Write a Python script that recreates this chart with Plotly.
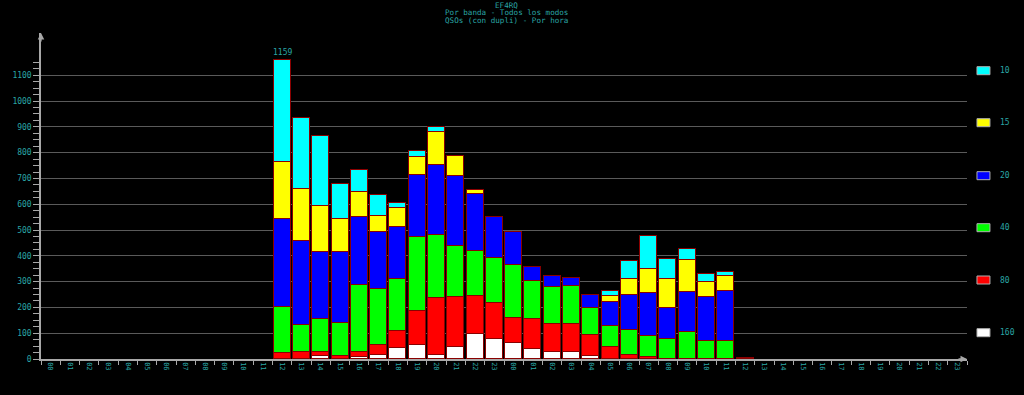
import plotly.graph_objects as go

# ---- data ----
hour_labels = [f"{h:02d}" for h in range(24)] * 2
bands = ["160", "80", "40", "20", "15", "10"]
band_colors = ["#ffffff", "#ff0000", "#00ff00", "#0000ff", "#ffff00", "#00ffff"]

pad0 = [0] * 12
pad1 = [0] * 11
q160 = pad0 + [0, 0, 10, 0, 9, 14, 41, 54, 16, 48, 97, 76, 63, 39, 28, 28, 12, 0, 0, 0, 0, 0, 0, 0, 0] + pad1
q80 = pad0 + [25, 26, 16, 12, 19, 40, 69, 132, 219, 191, 146, 140, 97, 115, 108, 106, 82, 48, 16, 6, 0, 0, 0, 0, 0] + pad1
q40 = pad0 + [178, 106, 128, 126, 258, 217, 200, 288, 247, 200, 177, 177, 203, 150, 142, 150, 105, 80, 96, 83, 76, 103, 68, 68, 0] + pad1
q20 = pad0 + [338, 324, 259, 275, 266, 220, 202, 238, 270, 270, 218, 159, 128, 54, 44, 30, 50, 93, 136, 168, 120, 157, 171, 197, 4] + pad1
q15 = pad0 + [224, 203, 179, 128, 97, 65, 72, 70, 129, 79, 17, 0, 0, 0, 0, 0, 0, 23, 62, 92, 114, 124, 61, 57, 0] + pad1
q10 = pad0 + [394, 276, 271, 139, 84, 81, 22, 25, 17, 0, 0, 0, 0, 0, 0, 0, 0, 21, 70, 129, 78, 41, 29, 15, 0] + pad1
series = [q160, q80, q40, q20, q15, q10]

title_lines = ["EF4RQ", "Por banda - Todos los modos", "QSOs (con dupli) - Por hora"]

TEAL = "#2aa6a6"
GRID = "#5a5a5a"
AXIS = "#a8a8a8"
FONT = "DejaVu Sans Mono, Liberation Mono, monospace"

xs = [i + 0.5 for i in range(len(hour_labels))]

fig = go.Figure()
for name, col, vals in zip(bands, band_colors, series):
    fig.add_trace(go.Bar(
        x=xs, y=[v if v else None for v in vals], name=name, width=0.88,
        marker=dict(color=col, line=dict(color="#8a0000", width=1)),
        showlegend=False,
    ))

totals = [sum(v) for v in zip(*series)]
imax = max(range(len(totals)), key=lambda i: totals[i])

H = 395
T, B = 33, 36
ph = H - T - B

annotations = []
for k, t in enumerate(title_lines):
    annotations.append(dict(text=t, x=0.5025, y=1 + (T - (5 + k * 7.6)) / ph,
                            xref="paper", yref="paper",
                            showarrow=False, font=dict(family=FONT, size=7.6, color=TEAL),
                            xanchor="center", yanchor="middle"))
annotations.append(dict(text=str(totals[imax]), x=xs[imax], y=totals[imax], yshift=8,
                        showarrow=False, font=dict(family=FONT, size=8, color=TEAL),
                        xanchor="center", yanchor="middle"))
# axis arrows
annotations.append(dict(text="", x=0, y=1, xref="paper", yref="paper", ax=0, ay=10,
                        showarrow=True, arrowhead=2, arrowsize=1, arrowwidth=1.3, arrowcolor=AXIS))
annotations.append(dict(text="", x=1, y=0, xref="paper", yref="paper", ax=-10, ay=0,
                        showarrow=True, arrowhead=2, arrowsize=1, arrowwidth=1.3, arrowcolor=AXIS))

shapes = []
# legend (top = 10, bottom = 160)
leg_y = [70.7, 122.7, 175.7, 227.7, 280.0, 332.7]
for (name, col), yy in zip(list(zip(bands, band_colors))[::-1], leg_y):
    y0 = 1 + (T - (yy + 4)) / ph
    y1 = 1 + (T - (yy - 4)) / ph
    shapes.append(dict(type="rect", xref="paper", yref="paper",
                       x0=(977 - 39) / 928, x1=(990 - 39) / 928, y0=y0, y1=y1,
                       fillcolor=col, line=dict(color="#b0b0b0", width=1)))
    annotations.append(dict(text=name, xref="paper", yref="paper",
                            x=(998 - 39) / 928, y=1 + (T - yy) / ph,
                            showarrow=False, xanchor="left", yanchor="middle",
                            font=dict(family=FONT, size=8, color=TEAL)))

fig.update_layout(
    width=1024, height=H,
    margin=dict(l=39, r=57, t=T, b=B),
    paper_bgcolor="black", plot_bgcolor="black",
    barmode="stack", bargap=0,
    showlegend=False,
    annotations=annotations, shapes=shapes,
    xaxis=dict(
        range=[0, 48], tickmode="array", tickvals=xs, ticktext=hour_labels,
        tickangle=90, ticks="", showgrid=False, zeroline=False,
        showline=True, linecolor=AXIS, linewidth=1.5,
        tickfont=dict(family=FONT, size=7, color=TEAL),
        minor=dict(tickmode="linear", tick0=0, dtick=1, ticks="outside", ticklen=4,
                   tickcolor=AXIS, tickwidth=1, showgrid=False),
        fixedrange=True,
    ),
    yaxis=dict(
        range=[0, 1264], tickmode="array", tickvals=list(range(0, 1101, 100)),
        ticks="outside", ticklen=6, tickcolor=AXIS, tickwidth=1,
        showgrid=True, gridcolor=GRID, gridwidth=1, zeroline=False,
        showline=True, linecolor=AXIS, linewidth=1.5,
        tickfont=dict(family=FONT, size=8, color=TEAL),
        minor=dict(tickmode="array", tickvals=[v for v in range(0, 1151, 25) if v % 100],
                   ticks="outside", ticklen=6, tickcolor=AXIS, tickwidth=1, showgrid=False),
        fixedrange=True,
    ),
)

fig.write_html(
    "out.html",
    config={"displayModeBar": False},
    post_script="document.body.style.margin='0';document.body.style.background='black';",
)
